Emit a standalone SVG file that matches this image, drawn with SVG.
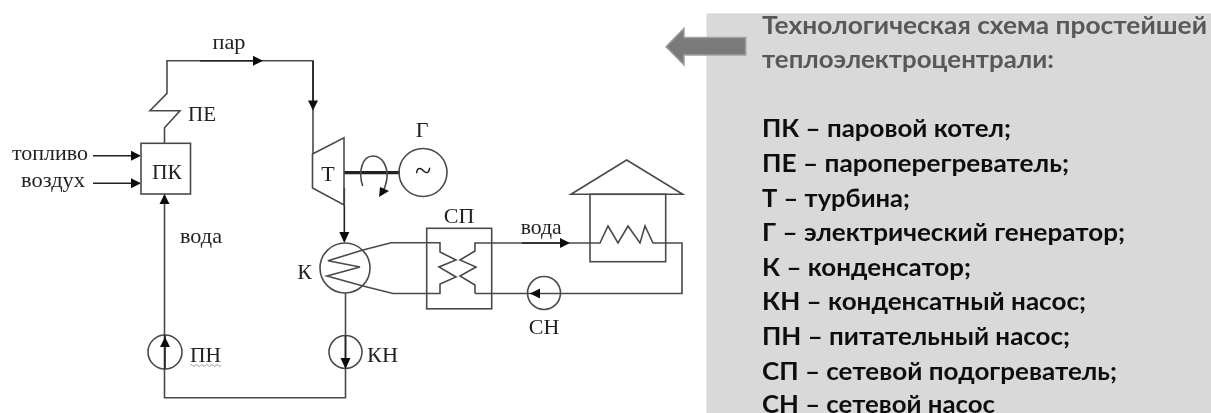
<svg xmlns="http://www.w3.org/2000/svg" width="1211" height="413" viewBox="0 0 1211 413">
<style>
.s{fill:none;stroke:#4a4a4a;stroke-width:1.6;stroke-linejoin:miter}
.d{fill:none;stroke:#222;stroke-width:1.6}
.t{font-family:"Liberation Serif","Times New Roman",serif;font-size:22px;fill:#222}
.m{text-anchor:middle}
.h{font-family:Lato,"Open Sans",sans-serif;font-weight:700;font-size:24.5px;fill:#595959}
.l{font-family:Lato,"Open Sans",sans-serif;font-weight:700;font-size:24.5px;fill:#111}
.a{fill:#111;stroke:none}
</style>
<defs><filter id="b" x="-2%" y="-2%" width="104%" height="104%"><feGaussianBlur stdDeviation="0.45"/></filter></defs>
<rect width="1211" height="413" fill="#fff"/>
<g filter="url(#b)">
<g id="panel">
<rect x="706.5" y="13.3" width="504.5" height="399.7" fill="#d9d9d9"/>
<path d="M666 46.700L684 28.300V37.500H745.700V55H684V65Z" fill="#7a7a7a" stroke="#a0a0a0" stroke-width="1.500"/>
<text class="h" x="762" y="34.300" textLength="445" lengthAdjust="spacingAndGlyphs">Технологическая схема простейшей</text>
<text class="h" x="762" y="68" textLength="292" lengthAdjust="spacingAndGlyphs">теплоэлектроцентрали:</text>
<text class="l" x="762" y="137" textLength="249" lengthAdjust="spacingAndGlyphs">ПК – паровой котел;</text>
<text class="l" x="762" y="172" textLength="307" lengthAdjust="spacingAndGlyphs">ПЕ – пароперегреватель;</text>
<text class="l" x="762" y="206.500" textLength="148" lengthAdjust="spacingAndGlyphs">Т – турбина;</text>
<text class="l" x="762" y="241" textLength="363" lengthAdjust="spacingAndGlyphs">Г – электрический генератор;</text>
<text class="l" x="762" y="276" textLength="209" lengthAdjust="spacingAndGlyphs">К – конденсатор;</text>
<text class="l" x="762" y="310" textLength="324" lengthAdjust="spacingAndGlyphs">КН – конденсатный насос;</text>
<text class="l" x="762" y="345" textLength="308" lengthAdjust="spacingAndGlyphs">ПН – питательный насос;</text>
<text class="l" x="762" y="380" textLength="355" lengthAdjust="spacingAndGlyphs">СП – сетевой подогреватель;</text>
<text class="l" x="762" y="413" textLength="233" lengthAdjust="spacingAndGlyphs">СН – сетевой насос</text>
</g>
<g id="connectors">
<path class="s" d="M164.500 143V127.700L180 110.700H150L167 93.300V60.700H313V154"/>
<path class="d" d="M93 155.700H134M93 183.300H134M200 60.700H256M313 61V102"/>
<path class="a" d="M141 155.700L131 150.700V160.700ZM141 183.300L131 178.300V188.300ZM263 60.700L253 55.700V65.700ZM313 110.500L308 100.500H318Z"/>
<path class="s" d="M164.500 194V397.700H345.500V293"/>
<path class="a" d="M164.500 194L159.500 204H169.500Z"/>
<path class="d" d="M344.300 188V234"/>
<path class="a" d="M344.300 243L339.300 232H349.300Z"/>
<path class="s" d="M363 250L391 242.700H440V252L456 260L439 267L456 277L440 284V293.500H393L363 286M475 293.500V285L460 276L476 267L460 260L475 251V243H600L608 226L618 243L628 226L640 243L645 226L653 243H682V293.500H475"/>
<path class="d" d="M522 243H562"/>
<path class="a" d="M570 243L560 238V248Z"/>
<path class="d" d="M344 172.700H400" style="stroke-width:3.200"/>
<path class="s" d="M362.700 186C358 172 362 156 373 156C383 156 388 168 387 178C386 184 385 188 383 191"/>
<path class="a" d="M379 197L380 187L389 191Z"/>
</g>
<g id="node-pe"><text class="t" x="188" y="121" textLength="28" lengthAdjust="spacingAndGlyphs">ПЕ</text></g>
<g id="node-pk"><rect class="s" x="141" y="143.300" width="49.500" height="50.700"/><text class="t m" x="167" y="179" textLength="30" lengthAdjust="spacingAndGlyphs">ПК</text></g>
<g id="node-t"><path class="s" d="M312.500 154L344 137.700V205L312.500 188Z"/><text class="t m" x="328" y="181">Т</text></g>
<g id="node-g"><circle class="s" cx="423" cy="172.500" r="24"/><text class="t m" x="423" y="181" style="font-size:30px">~</text><text class="t m" x="422" y="137">Г</text></g>
<g id="node-k"><circle class="s" cx="345" cy="268" r="25"/><path class="s" d="M363 250L328 260.700L360 267L327 276L363 286"/><text class="t m" x="304.500" y="279">К</text></g>
<g id="node-sp"><rect class="s" x="426.700" y="228.300" width="65" height="80.500"/><text class="t m" x="459" y="223">СП</text></g>
<g id="node-house"><rect class="s" x="590" y="194.300" width="75.700" height="67.400"/><path class="s" d="M571 194.300L626.700 160L682.700 194.300Z"/></g>
<g id="node-sn"><circle class="s" cx="544" cy="293" r="16.500"/><path class="a" d="M530 293.500L540 288.500V298.500Z"/><text class="t m" x="544" y="334">СН</text></g>
<g id="node-pn"><circle class="s" cx="165" cy="352" r="17"/><path class="d" d="M165 335V369"/><path class="a" d="M165 337L160 347H170Z"/><text class="t" x="190" y="362" textLength="31" lengthAdjust="spacingAndGlyphs">ПН</text><path d="M190 365.500q1.300-2 2.600 0t2.600 0t2.600 0t2.600 0t2.600 0t2.600 0t2.600 0t2.600 0t2.600 0t2.600 0t2.600 0t2.600 0" fill="none" stroke="#999" stroke-width="1"/></g>
<g id="node-kn"><circle class="s" cx="345.500" cy="352" r="16.500"/><path class="d" d="M345.500 336V360"/><path class="a" d="M345.500 369L340.500 358H350.500Z"/><text class="t" x="367" y="362" textLength="31" lengthAdjust="spacingAndGlyphs">КН</text></g>
<g id="labels">
<text class="t" x="212.500" y="49.300" textLength="33" lengthAdjust="spacingAndGlyphs">пар</text>
<text class="t" x="12" y="160" textLength="76" lengthAdjust="spacingAndGlyphs">топливо</text>
<text class="t" x="21" y="187" textLength="64" lengthAdjust="spacingAndGlyphs">воздух</text>
<text class="t" x="180" y="243" textLength="42" lengthAdjust="spacingAndGlyphs">вода</text>
<text class="t" x="520.700" y="234" textLength="41" lengthAdjust="spacingAndGlyphs">вода</text>
</g>
</g>
</svg>
